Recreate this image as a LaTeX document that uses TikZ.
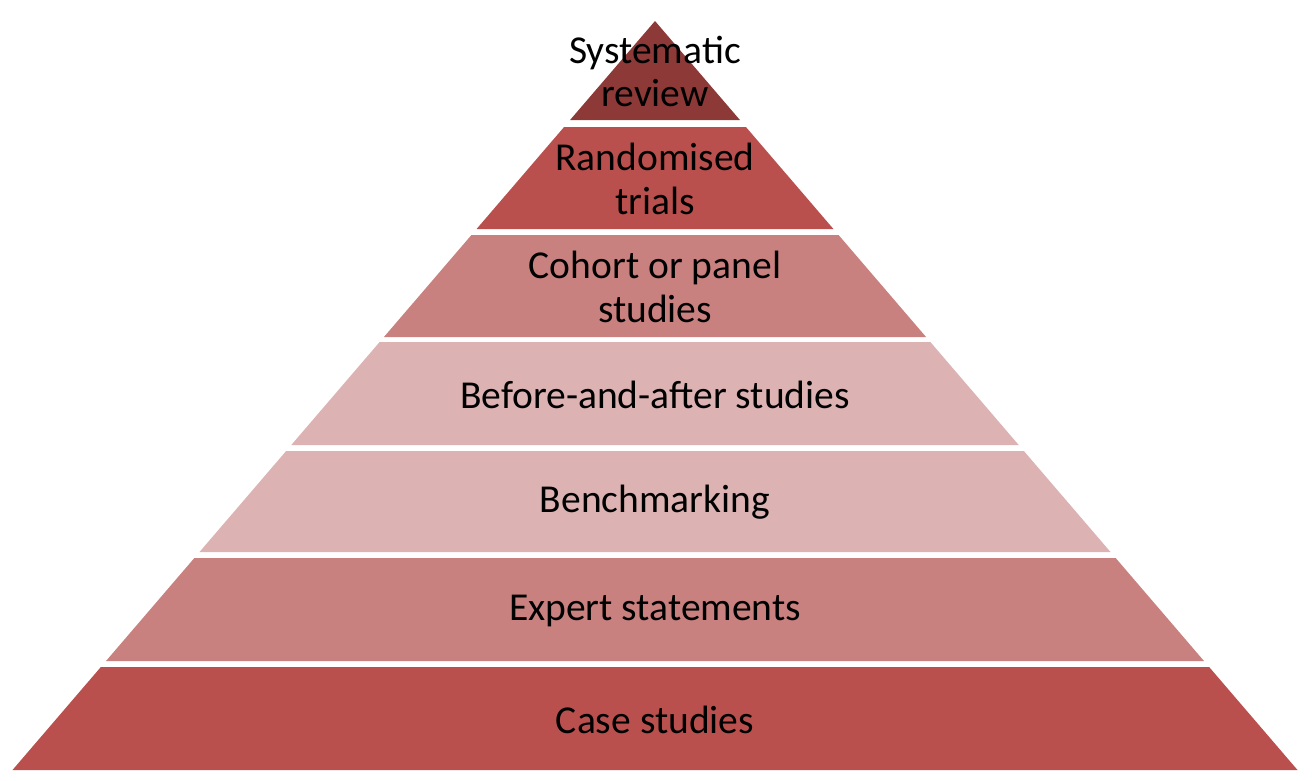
\documentclass[tikz,border=0pt]{standalone}
\usepackage{fontspec}
\setmainfont{Carlito}
\definecolor{topred}{RGB}{140,57,56}
\definecolor{midred}{RGB}{185,80,78}
\definecolor{rosered}{RGB}{201,129,128}
\definecolor{palered}{RGB}{220,178,178}
\begin{document}
\begin{tikzpicture}[x=0.02cm,y=-0.02cm]

    \tikzset{
      layer/.style={
        draw=none,
      },
      tag/.style={
        align=center,
        inner sep=0pt,
        font=\fontsize{22.5}{25}\selectfont,
        text=black,
      },
    }
    \useasboundingbox (0,0) rectangle (1312,781);
    % apex at (655,21), base from 13 to 1298 at 770
    \foreach \t/\b/\c/\n/\txt in {
        21/120/topred/review/{Systematic\\review},
        127/229/midred/trials/{Randomised\\trials},
        235/337/rosered/cohort/{Cohort or panel\\studies},
        342/445/palered/before/{Before-and-after studies},
        451/552/palered/bench/{Benchmarking},
        558/661/rosered/expert/{Expert statements},
        667/770/midred/cases/{Case studies}} {
      \pgfmathsetmacro{\wt}{(\t-21)*0.8578}
      \pgfmathsetmacro{\wb}{(\b-21)*0.8578}
      \pgfmathsetmacro{\m}{(\t+\b)/2+1}
      \fill[layer,fill=\c] (655-\wt,\t)--(655+\wt,\t)--(655+\wb,\b)--(655-\wb,\b)--cycle;
      \node[tag] (\n) at (655,\m) {\txt};
    }

\end{tikzpicture}
\end{document}
